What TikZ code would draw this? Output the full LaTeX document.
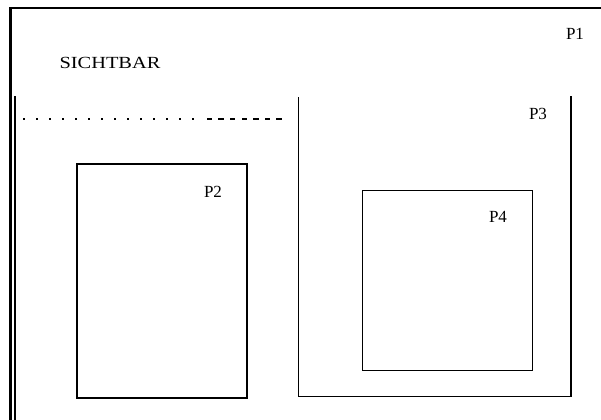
\documentclass[tikz,border=0pt]{standalone}
\usepackage{fontspec}
\setmainfont{Liberation Serif}
\newfontfamily\widefont[FakeStretch=1.2]{Liberation Serif}
\begin{document}
\begin{tikzpicture}[x=1bp,y=-1bp,
  lbl/.style={inner sep=0pt, font=\fontsize{17bp}{19bp}\selectfont},
  thick1/.style={line width=2bp},
  thin1/.style={line width=1.2bp}]
\useasboundingbox (0,0) rectangle (601,419);
% P1 outer frame
\draw[line width=2.2bp] (10.5,420) -- (10.5,8) -- (602,8);
\draw[line width=2.2bp] (15,420) -- (15,95.5);
% dotted/dashed line
\foreach \i in {0,...,13} {\fill (24.3+13*\i-1,118) rectangle ++(2,2);}
\foreach \i in {0,...,6} {\fill (206.8+11.6*\i,118) rectangle ++(5.3,2);}
% P3 open box
\draw[thin1] (298.3,97) -- (298.3,396.3) -- (570.5,396.3);
\draw[thick1] (570.5,396.8) -- (570.5,96);
% P2 box
\draw[thick1] (77,163.5) rectangle (246.7,397.8);
% P4 box
\draw[line width=1.5bp] (362.7,190.5) rectangle (532.7,370.5);
% labels
\node[lbl, font=\widefont\fontsize{17bp}{19bp}\selectfont] (sichtbar) at (110,63) {SICHTBAR};
\node[lbl] (p1) at (575,34) {P1};
\node[lbl] (p3) at (538,114) {P3};
\node[lbl] (p2) at (213,192) {P2};
\node[lbl] (p4) at (498,216.5) {P4};
\end{tikzpicture}
\end{document}
